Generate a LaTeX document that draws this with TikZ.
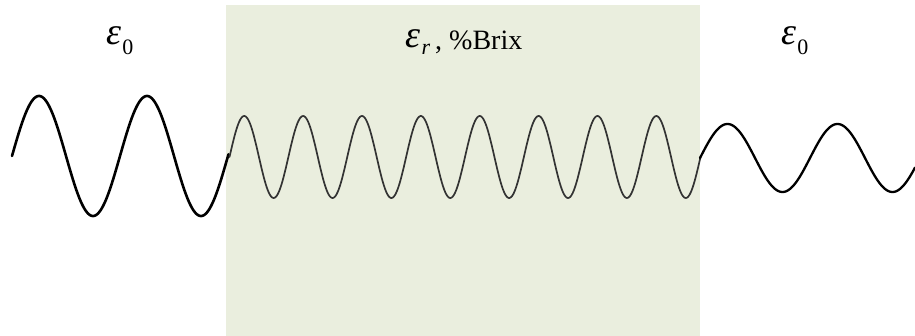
\documentclass[tikz,border=0pt]{standalone}
\usepackage{fontspec}
\setmainfont{Liberation Serif}
\definecolor{medium}{RGB}{234,238,222}
\tikzset{
  wavethick/.style={line width=2.6pt, black, line join=round, line cap=round},
  wavethin/.style={line width=1.7pt, black!80, line join=round, line cap=round},
  wavemid/.style={line width=2.3pt, black, line join=round, line cap=round},
  lbl/.style={anchor=base, inner sep=0pt, font=\fontsize{28}{30}\selectfont},
}
\newcommand{\epsglyph}{{\fontsize{38}{38}\selectfont\itshape ε}}
\newcommand{\subtxt}[1]{{\fontsize{22}{22}\selectfont #1}}
\begin{document}
\begin{tikzpicture}[x=1pt,y=-1pt]
\useasboundingbox (0,0) rectangle (915,336);
\fill[medium] (226,5) rectangle (700,336);
% waves
\draw[wavethick] plot[domain=12:228.5, samples=220, smooth] (\x, {156 - 60*sin((\x-12)/108*360)});
\draw[wavethin] plot[domain=229.5:700.5, samples=480, smooth] (\x, {157 - 41*sin((\x-229.5)/58.875*360)});
\draw[wavemid] plot[domain=700:915, samples=220, smooth] (\x, {158 - 34*sin((\x-700)/110*360)});
% labels
\node[lbl] (epsL) at (120,45) {\epsglyph\kern1pt\raisebox{-10pt}{\subtxt{0}}};
\node[lbl] (epsR) at (795,45) {\epsglyph\kern1pt\raisebox{-10pt}{\subtxt{0}}};
\node[lbl] (epsM) at (464,50) {\raisebox{2pt}{\epsglyph}\kern1pt\raisebox{-5pt}{\subtxt{\itshape r}}\kern5pt, \%Brix};
\end{tikzpicture}
\end{document}
